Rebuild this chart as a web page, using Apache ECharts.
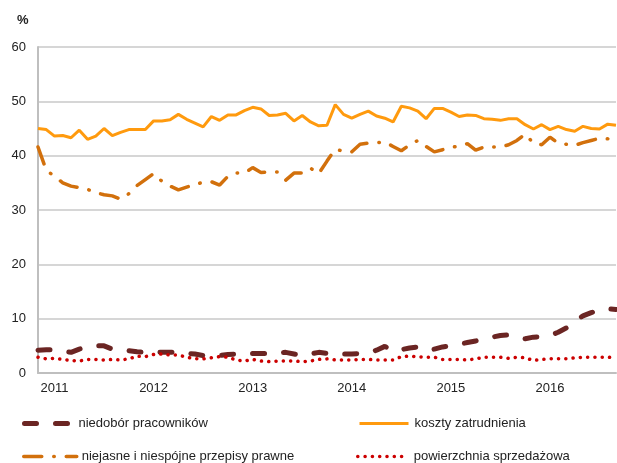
<!DOCTYPE html>
<html>
<head>
<meta charset="utf-8">
<script src="https://cdn.jsdelivr.net/npm/echarts@6/dist/echarts.min.js"></script>
<style>
  html, body { margin: 0; padding: 0; background: #fff; }
  #chart { width: 617px; height: 463px; }
</style>
</head>
<body>
<div id="chart"></div>
<script>
// miesiące: XI 2010 - IX 2016
var months = [];
for (var y = 2010; y <= 2016; y++) {
  for (var m = 1; m <= 12; m++) {
    if (y === 2010 && m < 11) continue;
    if (y === 2016 && m > 9) continue;
    months.push(y + '-' + (m < 10 ? '0' + m : m));
  }
}

// niedobór pracowników
var niedobor = [
  4.2, 4.3, 4.3, 4.0, 3.8, 4.4, 4.8, 5.0, 5.0, 4.4,
  4.2, 4.1, 3.9, 3.8, 3.9, 3.8, 3.8, 3.8, 3.6, 3.5,
  3.2, 3.1, 3.2, 3.4, 3.5, 3.6, 3.6, 3.6, 3.6, 3.7,
  3.8, 3.5, 3.2, 3.5, 3.8, 3.6, 3.4, 3.5, 3.5, 3.6,
  3.7, 4.2, 4.9, 4.0, 4.3, 4.6, 4.8, 4.2, 4.4, 4.8,
  5.0, 5.3, 5.6, 5.9, 6.2, 6.6, 6.9, 7.0, 6.5, 6.3,
  6.6, 6.7, 6.9, 7.5, 8.3, 9.6, 10.5, 11.1, 11.7, 11.8,
  11.7
];
// koszty zatrudnienia
var koszty = [
  45.0, 44.8, 43.6, 43.7, 43.3, 44.7, 43.0, 43.6, 45.0, 43.7,
  44.3, 44.8, 44.8, 44.8, 46.4, 46.4, 46.6, 47.6, 46.7, 46.0,
  45.3, 47.2, 46.5, 47.5, 47.5, 48.3, 48.9, 48.6, 47.4, 47.5,
  47.8, 46.4, 47.4, 46.2, 45.5, 45.6, 49.4, 47.6, 46.9, 47.6,
  48.2, 47.3, 46.9, 46.2, 49.1, 48.8, 48.2, 46.8, 48.7, 48.7,
  48.0, 47.2, 47.5, 47.4, 46.8, 46.7, 46.5, 46.8, 46.8, 45.7,
  44.9, 45.7, 44.8, 45.4, 44.8, 44.5, 45.4, 45.0, 44.9, 45.8,
  45.6
];
// niejasne i niespójne przepisy prawne
var przepisy = [
  41.6, 37.3, 36.2, 35.0, 34.4, 34.1, 33.8, 33.2, 32.8, 32.6,
  32.0, 33.0, 34.5, 35.6, 36.7, 35.3, 34.4, 33.7, 34.2, 34.7,
  35.1, 35.2, 34.6, 36.2, 36.8, 36.8, 37.8, 36.9, 37.0, 37.0,
  35.5, 36.8, 36.8, 37.7, 36.7, 39.0, 41.2, 40.8, 40.7, 42.1,
  42.3, 42.4, 42.5, 41.7, 40.9, 42.0, 42.8, 41.7, 40.7, 41.1,
  41.5, 41.8, 42.2, 41.0, 41.6, 41.6, 41.6, 42.0, 42.8, 44.0,
  42.3, 42.0, 43.4, 42.3, 42.1, 41.9, 42.4, 42.8, 43.2, 43.1,
  44.4
];
// powierzchnia sprzedażowa
var powierzchnia = [
  2.9, 2.6, 2.7, 2.5, 2.3, 2.2, 2.5, 2.5, 2.4, 2.5,
  2.4, 2.6, 3.1, 3.0, 3.4, 3.5, 3.3, 3.3, 2.9, 2.6,
  2.6, 2.8, 3.0, 2.9, 2.4, 2.2, 2.5, 2.2, 2.1, 2.2,
  2.2, 2.2, 2.1, 2.2, 2.5, 2.6, 2.4, 2.4, 2.4, 2.5,
  2.5, 2.4, 2.4, 2.4, 3.0, 3.1, 3.0, 2.9, 2.9, 2.5,
  2.5, 2.5, 2.4, 2.6, 2.9, 2.9, 2.9, 2.7, 2.9, 2.8,
  2.3, 2.5, 2.6, 2.6, 2.6, 2.8, 2.9, 2.9, 2.9, 2.9,
  2.8
];

var font = 'Liberation Sans, Arial, sans-serif';
var chart = echarts.init(document.getElementById('chart'));

// jedna legenda na pozycję, żeby kolumny były równe
function leg(name, left, top, w, pad, lw) {
  return {
    data: [name], left: left, top: top,
    itemWidth: w, itemHeight: 10, itemGap: 0,
    itemStyle: { opacity: 0 },
    lineStyle: { width: lw },
    textStyle: { fontFamily: font, fontSize: 13, color: '#222', padding: [0, 0, 0, pad] }
  };
}

var option = {
  animation: false,
  backgroundColor: '#fff',
  title: {
    text: '%', left: 12, top: 9,
    textStyle: { fontFamily: font, fontSize: 13, fontWeight: 'bold', color: '#222' }
  },
  legend: [
    leg('niedobór pracowników', 17, 412, 43, 6, 5),
    leg('koszty zatrudnienia', 353, 412, 49, 1, 3),
    leg('niejasne i niespójne przepisy prawne', 17, 445, 53, 0, 3.5),
    leg('powierzchnia sprzedażowa', 351, 445, 47, 4, 3.5)
  ],
  grid: { left: 38, right: 1, top: 47, bottom: 90 },
  xAxis: {
    type: 'category',
    data: months,
    boundaryGap: false,
    axisLine: { lineStyle: { color: '#bfbfbf', width: 2 } },
    axisTick: { show: false },
    axisLabel: {
      interval: function (i) { return (i - 2) % 12 === 0; },
      formatter: function (v) { return v.slice(0, 4); },
      fontFamily: font, fontSize: 13, color: '#222', margin: 9
    }
  },
  yAxis: {
    type: 'value',
    min: 0, max: 60, interval: 10,
    axisLine: { show: true, lineStyle: { color: '#bfbfbf', width: 2 } },
    axisTick: { show: false },
    splitLine: { lineStyle: { color: '#c8c8c8', width: 1.5 } },
    axisLabel: { fontFamily: font, fontSize: 13, color: '#222', margin: 12 }
  },
  series: [
    {
      name: 'koszty zatrudnienia', type: 'line', data: koszty,
      showSymbol: false, symbol: 'none', color: '#ff9a0e',
      lineStyle: { width: 3, color: '#ff9a0e' }
    },
    {
      name: 'niejasne i niespójne przepisy prawne', type: 'line', data: przepisy,
      showSymbol: false, symbol: 'none', color: '#d2700c',
      lineStyle: { width: 3.5, color: '#d2700c', type: [18, 12, 0.5, 12], cap: 'round' }
    },
    {
      name: 'niedobór pracowników', type: 'line', data: niedobor,
      showSymbol: false, symbol: 'none', color: '#6b2523',
      lineStyle: { width: 5, color: '#6b2523', type: [12, 19], cap: 'round' }
    },
    {
      name: 'powierzchnia sprzedażowa', type: 'line', data: powierzchnia,
      showSymbol: false, symbol: 'none', color: '#cc0000',
      lineStyle: { width: 3.5, color: '#cc0000', type: [0.1, 7.2], cap: 'round' }
    }
  ]
};
chart.setOption(option);
</script>
</body>
</html>
